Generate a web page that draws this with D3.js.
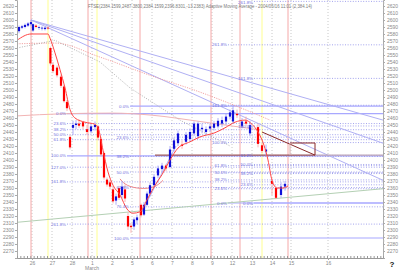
<!DOCTYPE html>
<html><head><meta charset="utf-8">
<script src="https://cdn.jsdelivr.net/npm/d3@7"></script>
<style>
body{margin:0;background:#fff}
svg{display:block}
text{font-family:Arial,"Liberation Sans",sans-serif}
</style>
</head><body><svg id="c" width="400" height="271"></svg>
<script>
// ---------- data ----------
const dayLabels = ["26","27","28","1","2","5","6","7","8","9","12","13","14","15","16"];
const daySlots  = [0,1,2,3,4,5,6,7,8,9,10,11,12,12.95,14.8];
const monthLabel = ["March", 3];
const titleText = "FTSE(2384.1599,2487.3800,2384.1599,2396.8301,-13.2383) Adaptive Moving Average - 2004/05/16 11:01 (2,384.14)";
const priceTicks = d3.range(2270, 2621, 10);

// [slot, open, high, low, close]
const candles = [
 [-0.65,2584,2592,2581,2590],[-0.5,2589,2593,2587,2591],[-0.35,2590,2595,2588,2593],
 [-0.2,2592,2597,2590,2595],[-0.05,2594,2600,2591,2597],[0.05,2585,2595,2583,2594],
 [0.2,2592,2594,2588,2590],[0.35,2589,2592,2586,2590],[0.5,2588,2591,2585,2589],
 [0.65,2587,2590,2585,2589],[0.8,2589,2591,2586,2588],[0.92,2560,2562,2535,2538],
 [1.05,2536,2540,2524,2527],[1.25,2532,2535,2518,2521],[1.45,2519,2522,2503,2506],
 [1.6,2505,2507,2482,2484],[1.75,2483,2486,2470,2474],[1.9,2433,2436,2415,2418],
 [2.05,2446,2456,2436,2450],[2.2,2450,2457,2444,2452],[2.35,2452,2458,2446,2449],
 [2.55,2454,2456,2444,2448],[2.75,2444,2450,2436,2440],[2.95,2441,2452,2438,2448],
 [3.15,2447,2455,2442,2450],[3.3,2448,2450,2428,2432],[3.45,2430,2433,2405,2408],
 [3.6,2410,2412,2372,2375],[3.75,2372,2375,2362,2365],[3.9,2368,2372,2358,2362],
 [4.05,2358,2362,2338,2341],[4.2,2342,2352,2336,2348],[4.35,2360,2363,2343,2346],
 [4.5,2350,2370,2345,2362],[4.65,2358,2365,2340,2345],[4.8,2320,2325,2300,2305],
 [4.95,2306,2310,2296,2304],[5.1,2305,2318,2300,2315],[5.25,2314,2322,2308,2318],
 [5.45,2336,2338,2318,2321],[5.6,2322,2340,2320,2336],[5.75,2336,2355,2334,2352],
 [5.9,2352,2368,2348,2364],[6.1,2364,2380,2360,2376],[6.3,2378,2392,2374,2388],
 [6.5,2387,2396,2382,2392],[6.7,2392,2394,2384,2388],[6.9,2390,2420,2388,2415],
 [7.1,2416,2432,2412,2428],[7.3,2424,2442,2420,2438],[7.5,2422,2428,2416,2420],
 [7.7,2426,2440,2422,2436],[7.9,2430,2445,2426,2440],[8.1,2438,2455,2434,2452],
 [8.3,2434,2455,2430,2452],[8.5,2444,2452,2438,2446],[8.7,2440,2448,2436,2444],
 [8.9,2445,2452,2440,2448],[9.1,2446,2456,2442,2452],[9.3,2448,2460,2445,2456],
 [9.5,2452,2462,2447,2457],[9.7,2455,2466,2450,2462],[9.9,2462,2472,2458,2468],
 [10.05,2455,2478,2452,2471],[10.25,2466,2472,2460,2464],[10.5,2448,2460,2445,2455],
 [10.7,2455,2462,2448,2452],[10.9,2438,2456,2434,2450],[11.3,2447,2452,2418,2423],
 [11.5,2421,2424,2410,2413],[11.7,2412,2422,2406,2415],[12.0,2370,2374,2350,2366],
 [12.2,2360,2362,2344,2346],[12.45,2350,2368,2346,2362],[12.65,2362,2370,2356,2366]
];

const amaLine = [[-0.75,2571],[-0.05,2580],[0.8,2580],[0.9,2574],[1.15,2553],[1.4,2529],[1.65,2503],
 [1.9,2472],[2.15,2460],[2.65,2454],[3.15,2451],[3.35,2442],[3.55,2414],[3.8,2383],[4.05,2364],
 [4.4,2350],[4.75,2330],[5.05,2324],[5.4,2326],[5.75,2343],[6.15,2364],[6.5,2379],[6.9,2400],
 [7.3,2417],[7.9,2426],[8.4,2433],[9.15,2439],[9.65,2446],[10.15,2454],[10.65,2457],[11.0,2451],
 [11.3,2440],[11.6,2421],[11.8,2400],[12.0,2371],[12.25,2360],[12.55,2360],[12.8,2363]];
const longMaLine = [[-0.75,2463],[1.5,2466],[4,2467],[6,2464],[8.4,2455],[11.4,2443]];
const pinkDotLine = [[-0.75,2566],[1.15,2567],[3.4,2547],[5.9,2521],[8.4,2497],[10.9,2469],[11.9,2457]];
const grayDotLine = [[-0.75,2560],[1.15,2571],[3.4,2540],[4.9,2503],[7.4,2457],[9.9,2420]];
const greenLine = [[-0.75,2311],[17.55,2359]];
const fanOrigin = [-0.05,2600];
const fanEnds = [[17.55,2457],[17.55,2424],[17.55,2371]];
const riseLine = [[5.4,2321],[7.2,2420]];
const bowlArc = [[4.4,2373],[4.7,2363],[5.4,2358.6],[6.15,2360],[6.55,2371]];
const brownLevel = [[6.15,2407],[14.15,2407]];
const greyLevel = [[14.15,2407],[17.55,2407]];
const brownDiag = [[11.5,2440],[14.15,2407]];
const brownBox = [[12.9,2424.3],[14.15,2424.3],[14.15,2407]];
const boxSide = [[12.9,2424.3],[12.9,2407]];
const redVerticals = [-0.05,2.8,5.4,8.95,10.4,12.8];
const yellowVerticals = [0.8,3.25,11.5];

// Fibonacci sets: anchors (0% , 100%), ratios, line start slot
const fibRatiosA = [0,0.236,0.382,0.5,0.618,1,1.27,1.618,2.618];
const fibRatiosB = [0,0.236,0.382,0.5,0.618,0.764,1];
const fibRatiosC = [0,0.236,0.382,0.5,0.618,1,1.618,2.618];
const fibSets = [
  {zero:2466.3, full:2406, ratios:fibRatiosA, start:1.75},
  {zero:2477.1, full:2288.6, ratios:fibRatiosB, start:4.9},
  {zero:2338.6, full:2424.9, ratios:fibRatiosC, start:9.8},
  {zero:2338.6, full:2448.6, ratios:fibRatiosC, start:11.1}
];

// ---------- scales ----------
const L = 17, R = 383, T = 0, B = 258;
const x = d3.scaleLinear().domain([-0.75, 17.55]).range([L, R]);
const y = d3.scaleLinear().domain([2260, 2628.57]).range([B, T]);
const svg = d3.select("#c");
const line = d3.line().x(d => x(d[0])).y(d => y(d[1]));
const curve = d3.line().x(d => x(d[0])).y(d => y(d[1])).curve(d3.curveMonotoneX);

const plot = svg.append("g");
plot.append("defs").append("clipPath").attr("id","pc").append("rect")
  .attr("x",L).attr("y",T).attr("width",R-L).attr("height",B-T);
const g = plot.append("g").attr("clip-path","url(#pc)");

// day grid
g.selectAll(".vg").data(daySlots).join("line")
  .attr("x1",d=>x(d)).attr("x2",d=>x(d)).attr("y1",T).attr("y2",B)
  .attr("stroke","#c8c8c8").attr("stroke-dasharray","1,2");
g.selectAll(".vr").data(redVerticals).join("line")
  .attr("x1",d=>x(d)).attr("x2",d=>x(d)).attr("y1",T).attr("y2",B)
  .attr("stroke","#f5a8a8").attr("stroke-width",1);
g.selectAll(".vy").data(yellowVerticals).join("line")
  .attr("x1",d=>x(d)).attr("x2",d=>x(d)).attr("y1",T).attr("y2",B)
  .attr("stroke","#ffff90").attr("stroke-width",1);

// fib levels
const labelLayer = svg.append("g");
fibSets.forEach((s,si) => {
  s.ratios.forEach(r => {
    const v = s.zero + r*(s.full - s.zero);
    const solid = (r === 0) || (r === 1 && si < 2);
    g.append("line").attr("x1",x(s.start)).attr("x2",R).attr("y1",y(v)).attr("y2",y(v))
      .attr("stroke", solid ? "#a8a8ff" : "#8c8ce8")
      .attr("stroke-width", solid ? 1.2 : 0.8)
      .attr("stroke-dasharray", solid ? null : "1,1.6");
    const ly = y(v);
    labelLayer.append("text").attr("x",x(s.start)-1)
      .attr("y", ly < 4 ? 4.0 : ly)
      .attr("dy", ly < 4 ? null : "0.35em")
      .attr("text-anchor","end").attr("font-size",4.4).attr("fill","#7070dd")
      .text((r*100).toFixed(1)+"%");
  });
});

// other lines
g.append("path").attr("d",line(greenLine)).attr("fill","none").attr("stroke","#b4d0b4").attr("stroke-width",1);
fanEnds.forEach(e => {
  g.append("path").attr("d",line([fanOrigin,e])).attr("fill","none").attr("stroke","#b0b0f4").attr("stroke-width",1);
});
g.append("path").attr("d",line(riseLine)).attr("fill","none").attr("stroke","#a0a0f0").attr("stroke-width",0.8);
g.append("path").attr("d",curve(longMaLine)).attr("fill","none").attr("stroke","#f2b4b4").attr("stroke-width",1);
g.append("path").attr("d",curve(pinkDotLine)).attr("fill","none").attr("stroke","#f09a9a").attr("stroke-dasharray","1.2,1.2").attr("stroke-width",0.9);
g.append("path").attr("d",line(grayDotLine)).attr("fill","none").attr("stroke","#a8a8a8").attr("stroke-dasharray","1,1.5").attr("stroke-width",0.9);
g.append("path").attr("d",d3.line().x(d=>x(d[0])).y(d=>y(d[1])).curve(d3.curveBasis)(bowlArc))
  .attr("fill","none").attr("stroke","#f08888").attr("stroke-width",1);

// brown drawing
g.append("path").attr("d",line(greyLevel)).attr("stroke","#c0a8b8").attr("stroke-width",1.2).attr("fill","none");
g.append("path").attr("d",line(brownLevel)).attr("stroke","#a05a5a").attr("stroke-width",1.4).attr("fill","none");
g.append("path").attr("d",line(brownDiag)).attr("stroke","#8a2a2a").attr("stroke-width",1).attr("fill","none");
g.append("path").attr("d",line(brownBox)).attr("stroke","#8a2a2a").attr("stroke-width",1).attr("fill","none");
g.append("path").attr("d",line(boxSide)).attr("stroke","#d8a8a8").attr("stroke-width",1).attr("fill","none");

// candles
const cw = 2.2;
const cg = g.append("g");
candles.forEach(c => {
  const [t,o,h,l,cl] = c;
  const up = cl >= o;
  const cx = x(t);
  cg.append("line").attr("x1",cx).attr("x2",cx).attr("y1",y(h)).attr("y2",y(l))
    .attr("stroke", up ? "#9a9af8" : "#f7a0a0").attr("stroke-width",0.8);
  const top = y(Math.max(o,cl)), bot = y(Math.min(o,cl));
  cg.append("rect").attr("x",cx-cw/2).attr("y",top).attr("width",cw).attr("height",Math.max(0.8,bot-top))
    .attr("fill", up ? "#1010d8" : "#ff0000");
});

// AMA
g.append("path").attr("d",curve(amaLine)).attr("fill","none").attr("stroke","#ff4646").attr("stroke-width",1);
labelLayer.raise();

// ---------- axes ----------
function styleAxis(sel){
  sel.selectAll("path.domain").attr("stroke","#aaaaaa");
  sel.selectAll(".tick line").attr("stroke","#aaaaaa");
  sel.selectAll("text").attr("fill","#8a8a8a").attr("font-size",5).attr("font-family","Arial, Liberation Sans, sans-serif");
}
const la = svg.append("g").attr("transform",`translate(${L},0)`)
  .call(d3.axisLeft(y).tickValues(priceTicks).tickSize(2).tickPadding(1).tickFormat(d3.format("d")));
styleAxis(la);
const ra = svg.append("g").attr("transform",`translate(${R},0)`)
  .call(d3.axisRight(y).tickValues(priceTicks).tickSize(2).tickPadding(2).tickFormat(d3.format("d")));
styleAxis(ra);
const minorY = priceTicks.map(v => v + 5).filter(v => v < 2628);
svg.append("g").attr("transform",`translate(${R},0)`)
  .call(d3.axisRight(y).tickValues(minorY).tickSize(1.5).tickFormat(""))
  .call(s=>{s.select(".domain").remove(); s.selectAll("line").attr("stroke","#bbbbbb");});

const minorX = d3.range(-0.75, 17.5, 1/6);
svg.append("g").attr("transform",`translate(0,${B})`)
  .call(d3.axisBottom(x).tickValues(minorX).tickSize(-2).tickFormat(""))
  .call(s=>{s.select(".domain").attr("stroke","#999999"); s.selectAll("line").attr("stroke","#999999");});
const xa = svg.append("g").attr("transform",`translate(0,${B})`)
  .call(d3.axisBottom(x).tickValues(daySlots).tickSize(2).tickPadding(1).tickFormat((d,i)=>dayLabels[i]));
styleAxis(xa);
xa.select(".domain").remove();
svg.append("text").attr("x",x(monthLabel[1])).attr("y",270).attr("text-anchor","middle")
  .attr("font-size",5).attr("fill","#8a8a8a").text(monthLabel[0]);

// title
svg.append("text").attr("x",88).attr("y",8.2).attr("font-size",4.6).attr("fill","#7a7a7a")
  .attr("textLength",224).attr("lengthAdjust","spacingAndGlyphs").text(titleText);

svg.append("text").attr("x",392).attr("y",267).attr("text-anchor","middle")
  .attr("font-size",8).attr("font-weight","bold").attr("fill","#111").text("?");
</script>
</body></html>
